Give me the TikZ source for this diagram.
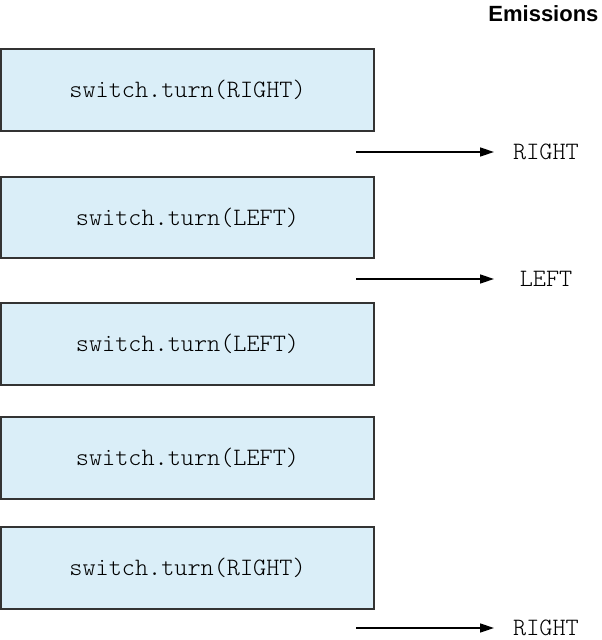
\documentclass[tikz,border=0pt]{standalone}
\usepackage{fontspec}
\setmainfont{Liberation Sans}
\newfontfamily\callfont{lmmonolt10-regular.otf}
\usetikzlibrary{arrows.meta}
\definecolor{callfill}{HTML}{DAEEF8}
\definecolor{calledge}{HTML}{333333}
\tikzset{
  callbox/.style={draw=calledge,line width=1.5pt,fill=callfill},
  calltext/.style={font=\fontsize{25}{29}\selectfont\callfont},
  emit/.style={line width=1.5pt,-{Triangle[length=14pt,width=9pt]}},
}
\begin{document}
\begin{tikzpicture}[x=1pt,y=-1pt]
\useasboundingbox (0,0) rectangle (602,640);
\node[anchor=east,font=\fontsize{22}{26}\selectfont\bfseries] (head) at (602,14) {Emissions};
% the calls
\draw[callbox] (1,49) rectangle (374,131);
\node[calltext] (c1) at (187.5,90) {switch.turn(RIGHT)};
\draw[callbox] (1,177) rectangle (374,258);
\node[calltext] (c2) at (187.5,217.5) {switch.turn(LEFT)};
\draw[callbox] (1,303) rectangle (374,385);
\node[calltext] (c3) at (187.5,344) {switch.turn(LEFT)};
\draw[callbox] (1,417) rectangle (374,499);
\node[calltext] (c4) at (187.5,458) {switch.turn(LEFT)};
\draw[callbox] (1,527) rectangle (374,609);
\node[calltext] (c5) at (187.5,568) {switch.turn(RIGHT)};
% what comes out
\coordinate (s1) at (356,152); \coordinate (t1) at (494,152);
\node[calltext] (e1) at (546,152) {RIGHT};
\draw[emit] (s1) -- (t1);
\coordinate (s2) at (356,279); \coordinate (t2) at (494,279);
\node[calltext] (e2) at (546,279) {LEFT};
\draw[emit] (s2) -- (t2);
\coordinate (s3) at (356,628); \coordinate (t3) at (494,628);
\node[calltext] (e3) at (546,628) {RIGHT};
\draw[emit] (s3) -- (t3);
\end{tikzpicture}
\end{document}
